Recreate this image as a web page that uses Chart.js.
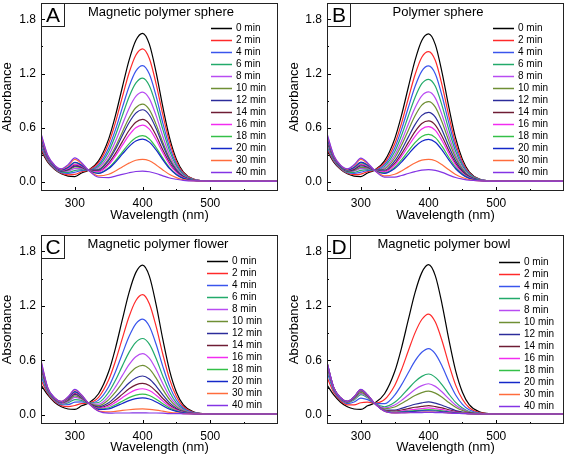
<!DOCTYPE html>
<html>
<head>
<meta charset="utf-8">
<script src="https://cdn.jsdelivr.net/npm/chart.js@4.4.1/dist/chart.umd.min.js"></script>
<style>
  body { margin: 0; background: #fff; }
  #wrap { position: relative; width: 567px; height: 457px; }
  .panel { position: absolute; }
</style>
</head>
<body>
<div id="wrap">
  <div class="panel" style="left:0;top:0;width:283px;height:225px"><canvas id="chartA"></canvas></div>
  <div class="panel" style="left:287px;top:0;width:280px;height:225px"><canvas id="chartB"></canvas></div>
  <div class="panel" style="left:0;top:228px;width:283px;height:229px"><canvas id="chartC"></canvas></div>
  <div class="panel" style="left:287px;top:228px;width:280px;height:229px"><canvas id="chartD"></canvas></div>
</div>
<script>
const wavelengths = [250, 260, 270, 280, 290, 300, 310, 320, 335, 350, 360, 370, 380, 390, 400, 410, 420, 430, 440, 450, 460, 475, 500, 600];

const timeLabels = ["0 min", "2 min", "4 min", "6 min", "8 min", "10 min", "12 min", "14 min", "16 min", "18 min", "20 min", "30 min", "40 min"];

const lineColors = ["#000000", "#ff2a2a", "#3a55ec", "#22aa6a", "#b84cf2", "#6f8f34", "#2c2c9a", "#6e1c34", "#f22cf0", "#34c048", "#1428c8", "#ff6c3c", "#8434e4"];

const xMajor = [300, 400, 500];
const xMinor = [350, 450, 550];
const yMajor = [0, 0.6, 1.2, 1.8];
const yMinor = [0.3, 0.9, 1.5];

// A: magnetic polymer sphere, one row per time
const magneticSphere = [
  [0.35, 0.22, 0.14, 0.09, 0.065, 0.06, 0.10, 0.13, 0.233, 0.477, 0.736, 1.045, 1.346, 1.566, 1.645, 1.525, 1.212, 0.827, 0.485, 0.25, 0.113, 0.033, 0.01, 0.01],
  [0.371, 0.229, 0.145, 0.096, 0.079, 0.083, 0.113, 0.13, 0.213, 0.429, 0.660, 0.936, 1.205, 1.402, 1.472, 1.365, 1.086, 0.741, 0.435, 0.225, 0.102, 0.031, 0.01, 0.01],
  [0.394, 0.238, 0.151, 0.103, 0.095, 0.108, 0.126, 0.13, 0.191, 0.377, 0.579, 0.820, 1.054, 1.226, 1.288, 1.194, 0.950, 0.649, 0.382, 0.198, 0.091, 0.028, 0.01, 0.01],
  [0.411, 0.244, 0.155, 0.108, 0.106, 0.127, 0.137, 0.13, 0.174, 0.337, 0.517, 0.731, 0.940, 1.093, 1.148, 1.064, 0.847, 0.579, 0.341, 0.178, 0.082, 0.026, 0.01, 0.01],
  [0.430, 0.252, 0.160, 0.114, 0.119, 0.148, 0.148, 0.13, 0.156, 0.294, 0.449, 0.634, 0.814, 0.946, 0.994, 0.922, 0.734, 0.503, 0.297, 0.156, 0.073, 0.024, 0.01, 0.01],
  [0.446, 0.259, 0.164, 0.119, 0.130, 0.166, 0.158, 0.13, 0.140, 0.257, 0.391, 0.551, 0.707, 0.821, 0.861, 0.800, 0.637, 0.437, 0.258, 0.137, 0.064, 0.022, 0.01, 0.01],
  [0.454, 0.262, 0.166, 0.121, 0.135, 0.175, 0.163, 0.13, 0.132, 0.239, 0.363, 0.511, 0.655, 0.761, 0.799, 0.741, 0.591, 0.406, 0.240, 0.128, 0.060, 0.021, 0.01, 0.01],
  [0.467, 0.267, 0.169, 0.125, 0.144, 0.189, 0.170, 0.13, 0.120, 0.209, 0.316, 0.444, 0.569, 0.660, 0.692, 0.643, 0.514, 0.353, 0.210, 0.112, 0.054, 0.020, 0.01, 0.01],
  [0.475, 0.270, 0.171, 0.128, 0.149, 0.198, 0.175, 0.13, 0.112, 0.191, 0.289, 0.404, 0.517, 0.600, 0.629, 0.584, 0.467, 0.321, 0.191, 0.103, 0.050, 0.019, 0.01, 0.01],
  [0.489, 0.276, 0.175, 0.132, 0.159, 0.213, 0.184, 0.13, 0.099, 0.158, 0.237, 0.331, 0.422, 0.488, 0.512, 0.476, 0.381, 0.263, 0.157, 0.086, 0.043, 0.017, 0.01, 0.01],
  [0.494, 0.278, 0.176, 0.133, 0.162, 0.218, 0.186, 0.13, 0.094, 0.148, 0.220, 0.307, 0.391, 0.453, 0.475, 0.441, 0.354, 0.245, 0.147, 0.081, 0.040, 0.016, 0.01, 0.01],
  [0.522, 0.289, 0.183, 0.142, 0.181, 0.249, 0.203, 0.13, 0.067, 0.085, 0.122, 0.166, 0.208, 0.240, 0.250, 0.234, 0.189, 0.133, 0.082, 0.048, 0.026, 0.013, 0.01, 0.01],
  [0.538, 0.295, 0.187, 0.146, 0.192, 0.266, 0.213, 0.13, 0.052, 0.048, 0.064, 0.084, 0.102, 0.116, 0.121, 0.113, 0.094, 0.068, 0.044, 0.030, 0.018, 0.011, 0.01, 0.01]
];

// B: polymer sphere
const polymerSphere = [
  [0.35, 0.22, 0.14, 0.09, 0.065, 0.06, 0.10, 0.13, 0.233, 0.477, 0.736, 1.045, 1.346, 1.566, 1.638, 1.52, 1.208, 0.825, 0.484, 0.25, 0.113, 0.033, 0.01, 0.01],
  [0.374, 0.230, 0.146, 0.097, 0.081, 0.087, 0.115, 0.13, 0.210, 0.422, 0.649, 0.921, 1.186, 1.379, 1.442, 1.343, 1.068, 0.729, 0.428, 0.222, 0.101, 0.030, 0.01, 0.01],
  [0.394, 0.238, 0.151, 0.103, 0.095, 0.108, 0.126, 0.13, 0.191, 0.377, 0.579, 0.821, 1.056, 1.227, 1.284, 1.195, 0.951, 0.650, 0.382, 0.198, 0.091, 0.028, 0.01, 0.01],
  [0.412, 0.245, 0.156, 0.109, 0.107, 0.128, 0.137, 0.13, 0.173, 0.335, 0.514, 0.727, 0.935, 1.087, 1.136, 1.058, 0.842, 0.576, 0.339, 0.177, 0.082, 0.026, 0.01, 0.01],
  [0.429, 0.252, 0.160, 0.114, 0.119, 0.147, 0.148, 0.13, 0.156, 0.296, 0.452, 0.638, 0.820, 0.952, 0.996, 0.928, 0.739, 0.506, 0.298, 0.157, 0.073, 0.024, 0.01, 0.01],
  [0.443, 0.257, 0.163, 0.118, 0.128, 0.162, 0.156, 0.13, 0.144, 0.265, 0.405, 0.570, 0.732, 0.850, 0.889, 0.828, 0.660, 0.452, 0.267, 0.141, 0.066, 0.022, 0.01, 0.01],
  [0.457, 0.263, 0.167, 0.122, 0.137, 0.178, 0.164, 0.13, 0.130, 0.232, 0.352, 0.496, 0.635, 0.737, 0.771, 0.718, 0.573, 0.393, 0.233, 0.124, 0.059, 0.021, 0.01, 0.01],
  [0.469, 0.268, 0.170, 0.126, 0.145, 0.191, 0.171, 0.13, 0.118, 0.205, 0.310, 0.435, 0.557, 0.646, 0.675, 0.630, 0.503, 0.346, 0.205, 0.110, 0.053, 0.019, 0.01, 0.01],
  [0.477, 0.271, 0.172, 0.128, 0.151, 0.200, 0.176, 0.13, 0.111, 0.187, 0.282, 0.395, 0.505, 0.586, 0.612, 0.571, 0.456, 0.314, 0.187, 0.101, 0.049, 0.018, 0.01, 0.01],
  [0.487, 0.275, 0.174, 0.131, 0.158, 0.211, 0.182, 0.13, 0.100, 0.163, 0.244, 0.341, 0.435, 0.504, 0.527, 0.491, 0.393, 0.271, 0.162, 0.089, 0.044, 0.017, 0.01, 0.01],
  [0.494, 0.278, 0.176, 0.133, 0.162, 0.219, 0.187, 0.13, 0.094, 0.148, 0.220, 0.306, 0.390, 0.451, 0.472, 0.440, 0.353, 0.244, 0.146, 0.081, 0.040, 0.016, 0.01, 0.01],
  [0.521, 0.289, 0.183, 0.141, 0.181, 0.249, 0.203, 0.13, 0.068, 0.085, 0.122, 0.167, 0.210, 0.241, 0.251, 0.235, 0.190, 0.134, 0.082, 0.049, 0.026, 0.013, 0.01, 0.01],
  [0.536, 0.294, 0.186, 0.146, 0.190, 0.264, 0.211, 0.13, 0.054, 0.053, 0.072, 0.094, 0.115, 0.131, 0.136, 0.128, 0.106, 0.076, 0.049, 0.032, 0.019, 0.012, 0.01, 0.01]
];

// C: magnetic polymer flower
const magneticFlower = [
  [0.33, 0.22, 0.14, 0.09, 0.065, 0.06, 0.10, 0.13, 0.233, 0.477, 0.736, 1.045, 1.346, 1.566, 1.649, 1.528, 1.214, 0.828, 0.485, 0.25, 0.113, 0.033, 0.01, 0.01],
  [0.384, 0.236, 0.150, 0.102, 0.092, 0.104, 0.124, 0.13, 0.194, 0.386, 0.593, 0.840, 1.081, 1.257, 1.324, 1.224, 0.974, 0.665, 0.391, 0.203, 0.093, 0.028, 0.01, 0.01],
  [0.429, 0.249, 0.158, 0.112, 0.114, 0.140, 0.144, 0.13, 0.163, 0.310, 0.475, 0.671, 0.862, 1.002, 1.055, 0.976, 0.777, 0.532, 0.314, 0.164, 0.076, 0.025, 0.01, 0.01],
  [0.464, 0.260, 0.165, 0.120, 0.132, 0.169, 0.160, 0.13, 0.137, 0.250, 0.381, 0.537, 0.688, 0.799, 0.841, 0.779, 0.621, 0.426, 0.252, 0.133, 0.063, 0.022, 0.01, 0.01],
  [0.491, 0.268, 0.170, 0.126, 0.146, 0.192, 0.172, 0.13, 0.118, 0.204, 0.308, 0.432, 0.553, 0.641, 0.675, 0.625, 0.499, 0.343, 0.204, 0.110, 0.053, 0.019, 0.01, 0.01],
  [0.513, 0.274, 0.174, 0.131, 0.156, 0.209, 0.181, 0.13, 0.102, 0.168, 0.251, 0.351, 0.448, 0.519, 0.546, 0.506, 0.405, 0.279, 0.167, 0.091, 0.045, 0.017, 0.01, 0.01],
  [0.533, 0.280, 0.178, 0.135, 0.166, 0.225, 0.190, 0.13, 0.088, 0.134, 0.199, 0.276, 0.352, 0.407, 0.428, 0.396, 0.318, 0.220, 0.133, 0.074, 0.037, 0.016, 0.01, 0.01],
  [0.546, 0.284, 0.180, 0.138, 0.173, 0.236, 0.196, 0.13, 0.079, 0.112, 0.164, 0.226, 0.287, 0.331, 0.347, 0.323, 0.260, 0.181, 0.110, 0.062, 0.032, 0.015, 0.01, 0.01],
  [0.555, 0.287, 0.182, 0.140, 0.178, 0.244, 0.200, 0.13, 0.072, 0.095, 0.138, 0.189, 0.239, 0.275, 0.288, 0.268, 0.217, 0.152, 0.093, 0.054, 0.029, 0.014, 0.01, 0.01],
  [0.565, 0.290, 0.184, 0.142, 0.183, 0.252, 0.205, 0.13, 0.065, 0.079, 0.112, 0.151, 0.190, 0.218, 0.229, 0.213, 0.173, 0.122, 0.075, 0.045, 0.025, 0.013, 0.01, 0.01],
  [0.572, 0.292, 0.185, 0.144, 0.186, 0.257, 0.208, 0.13, 0.060, 0.067, 0.094, 0.126, 0.157, 0.179, 0.188, 0.175, 0.143, 0.101, 0.063, 0.039, 0.022, 0.012, 0.01, 0.01],
  [0.592, 0.298, 0.189, 0.148, 0.196, 0.274, 0.217, 0.13, 0.045, 0.033, 0.040, 0.049, 0.057, 0.063, 0.066, 0.062, 0.053, 0.041, 0.028, 0.022, 0.015, 0.011, 0.01, 0.01],
  [0.600, 0.300, 0.190, 0.150, 0.200, 0.280, 0.220, 0.13, 0.040, 0.020, 0.021, 0.021, 0.021, 0.022, 0.022, 0.021, 0.021, 0.019, 0.015, 0.015, 0.012, 0.010, 0.01, 0.01]
];

// D: magnetic polymer bowl
const magneticBowl = [
  [0.33, 0.22, 0.14, 0.09, 0.065, 0.06, 0.10, 0.13, 0.233, 0.477, 0.736, 1.045, 1.346, 1.566, 1.653, 1.53, 1.215, 0.828, 0.485, 0.25, 0.113, 0.033, 0.01, 0.01],
  [0.414, 0.247, 0.157, 0.110, 0.110, 0.134, 0.140, 0.13, 0.169, 0.324, 0.497, 0.703, 0.903, 1.050, 1.110, 1.022, 0.814, 0.557, 0.328, 0.172, 0.079, 0.025, 0.01, 0.01],
  [0.472, 0.265, 0.168, 0.124, 0.142, 0.185, 0.168, 0.13, 0.124, 0.218, 0.330, 0.464, 0.594, 0.689, 0.730, 0.672, 0.536, 0.368, 0.219, 0.117, 0.056, 0.020, 0.01, 0.01],
  [0.515, 0.279, 0.177, 0.134, 0.165, 0.223, 0.189, 0.13, 0.090, 0.139, 0.207, 0.288, 0.366, 0.424, 0.450, 0.413, 0.331, 0.229, 0.138, 0.076, 0.038, 0.016, 0.01, 0.01],
  [0.531, 0.284, 0.180, 0.138, 0.174, 0.237, 0.197, 0.13, 0.078, 0.109, 0.160, 0.220, 0.279, 0.322, 0.343, 0.314, 0.252, 0.176, 0.107, 0.061, 0.032, 0.014, 0.01, 0.01],
  [0.544, 0.288, 0.183, 0.141, 0.180, 0.248, 0.203, 0.13, 0.068, 0.087, 0.125, 0.170, 0.214, 0.246, 0.262, 0.240, 0.194, 0.136, 0.084, 0.049, 0.027, 0.013, 0.01, 0.01],
  [0.562, 0.294, 0.186, 0.146, 0.190, 0.264, 0.211, 0.13, 0.054, 0.053, 0.072, 0.095, 0.117, 0.133, 0.144, 0.130, 0.107, 0.077, 0.049, 0.032, 0.019, 0.012, 0.01, 0.01],
  [0.568, 0.296, 0.188, 0.147, 0.194, 0.269, 0.214, 0.13, 0.049, 0.042, 0.054, 0.069, 0.084, 0.094, 0.103, 0.092, 0.077, 0.057, 0.038, 0.026, 0.017, 0.011, 0.01, 0.01],
  [0.572, 0.297, 0.188, 0.148, 0.196, 0.273, 0.216, 0.13, 0.046, 0.035, 0.043, 0.053, 0.062, 0.070, 0.077, 0.068, 0.058, 0.044, 0.030, 0.023, 0.015, 0.011, 0.01, 0.01],
  [0.575, 0.298, 0.189, 0.149, 0.197, 0.275, 0.217, 0.13, 0.044, 0.030, 0.035, 0.042, 0.048, 0.053, 0.059, 0.052, 0.045, 0.035, 0.025, 0.020, 0.014, 0.010, 0.01, 0.01],
  [0.577, 0.299, 0.189, 0.149, 0.198, 0.277, 0.218, 0.13, 0.043, 0.026, 0.030, 0.034, 0.039, 0.044, 0.046, 0.043, 0.037, 0.029, 0.022, 0.018, 0.013, 0.010, 0.01, 0.01],
  [0.579, 0.300, 0.190, 0.150, 0.199, 0.279, 0.219, 0.13, 0.041, 0.022, 0.024, 0.026, 0.028, 0.029, 0.031, 0.029, 0.028, 0.022, 0.017, 0.016, 0.012, 0.010, 0.01, 0.01],
  [0.580, 0.300, 0.190, 0.150, 0.200, 0.280, 0.220, 0.13, 0.040, 0.021, 0.022, 0.024, 0.025, 0.026, 0.028, 0.026, 0.025, 0.020, 0.016, 0.015, 0.012, 0.010, 0.01, 0.01]
];

const FONT = "'Liberation Sans', Arial, sans-serif";
Chart.defaults.font.family = FONT;
Chart.defaults.color = "#000";

// frame, inward ticks, panel letter, title and the legend inside the plot
const decor = {
    id: "decor",
    afterDraw(chart, args, o) {
        const ctx = chart.ctx;
        const { left, top, right, bottom } = chart.chartArea;
        const xs = chart.scales.x, ys = chart.scales.y;
        ctx.save();
        ctx.strokeStyle = "#000";
        ctx.lineWidth = 1;
        ctx.beginPath();
        xMajor.forEach(v => { const p = Math.round(xs.getPixelForValue(v)) + 0.5; ctx.moveTo(p, bottom); ctx.lineTo(p, bottom - 4); });
        xMinor.forEach(v => { const p = Math.round(xs.getPixelForValue(v)) + 0.5; ctx.moveTo(p, bottom); ctx.lineTo(p, bottom - 2); });
        yMajor.forEach(v => { const p = Math.round(ys.getPixelForValue(v)) + 0.5; ctx.moveTo(left, p); ctx.lineTo(left + 4, p); });
        yMinor.forEach(v => { const p = Math.round(ys.getPixelForValue(v)) + 0.5; ctx.moveTo(left, p); ctx.lineTo(left + 2, p); });
        ctx.stroke();

        ctx.strokeStyle = "#222";
        ctx.strokeRect(left + 0.5, top + 0.5, right - left - 1, bottom - top - 1);
        ctx.strokeRect(left + 0.5, top + 0.5, 23, 23);

        ctx.fillStyle = "#000";
        ctx.textAlign = "center";
        ctx.textBaseline = "alphabetic";
        ctx.font = "21px " + FONT;
        ctx.fillText(o.letter, left + 12, top + 19);
        ctx.font = "13px " + FONT;
        ctx.fillText(o.title, left + o.titleX, top + 13);

        ctx.font = "10px " + FONT;
        ctx.textAlign = "left";
        ctx.textBaseline = "middle";
        chart.data.datasets.forEach((ds, i) => {
            const y = Math.round(top + o.legendY + i * 12) + 0.5;
            const x0 = right + o.legendX;
            ctx.strokeStyle = ds.borderColor;
            ctx.lineWidth = 1.5;
            ctx.beginPath();
            ctx.moveTo(x0, y);
            ctx.lineTo(x0 + 21, y);
            ctx.stroke();
            ctx.fillText(ds.label, x0 + 25, y);
        });
        ctx.restore();
    }
};

// fixed axis sizes, and no extra room for end labels so the plot box lands where the picture has it
function fixBox(s, size) {
    if (s.isHorizontal()) s.height = size; else s.width = size;
    s.paddingTop = 0;
    s.paddingBottom = 0;
    s.paddingLeft = 0;
    s.paddingRight = 0;
}

function makeChart(id, curves, p) {
    const datasets = curves.map((vals, i) => ({
        label: timeLabels[i],
        data: vals.map((v, j) => ({ x: wavelengths[j], y: v })),
        borderColor: lineColors[i],
        borderWidth: 1.2,
        pointRadius: 0,
        cubicInterpolationMode: "monotone",
        fill: false,
        order: curves.length - i
    }));

    new Chart(document.getElementById(id), {
        type: "line",
        data: { datasets: datasets },
        plugins: [decor],
        options: {
            responsive: true,
            maintainAspectRatio: false,
            animation: false,
            layout: { padding: { top: p.padTop, right: p.padRight, left: 0, bottom: 0 } },
            plugins: {
                legend: { display: false },
                tooltip: { enabled: false },
                decor: { letter: p.letter, title: p.title, titleX: p.titleX, legendX: p.legendX, legendY: p.legendY }
            },
            scales: {
                x: {
                    type: "linear",
                    min: 250,
                    max: 600,
                    grid: { display: false, drawTicks: false, tickLength: 0 },
                    border: { display: false },
                    afterBuildTicks: s => { s.ticks = xMajor.map(v => ({ value: v })); },
                    afterFit: s => fixBox(s, p.xHeight),
                    ticks: { padding: 5, maxRotation: 0, font: { size: 12 } },
                    title: { display: true, text: "Wavelength (nm)", font: { size: 13 }, padding: { top: 0, bottom: 2 } }
                },
                y: {
                    min: -0.1,
                    max: 1.98,
                    grid: { display: false, drawTicks: false, tickLength: 0 },
                    border: { display: false },
                    afterBuildTicks: s => { s.ticks = yMajor.map(v => ({ value: v })); },
                    afterFit: s => fixBox(s, p.yWidth),
                    ticks: { padding: 5, font: { size: 12 }, callback: v => v.toFixed(1) },
                    title: { display: true, text: "Absorbance", font: { size: 13 }, padding: 0 }
                }
            }
        }
    });
}

makeChart("chartA", magneticSphere, { letter: "A", title: "Magnetic polymer sphere", titleX: 120, legendX: -67, legendY: 25, padTop: 3, padRight: 5, xHeight: 34, yWidth: 41 });
makeChart("chartB", polymerSphere, { letter: "B", title: "Polymer sphere", titleX: 111, legendX: -71, legendY: 25, padTop: 3, padRight: 3, xHeight: 34, yWidth: 40 });
makeChart("chartC", magneticFlower, { letter: "C", title: "Magnetic polymer flower", titleX: 117, legendX: -71, legendY: 26, padTop: 7, padRight: 5, xHeight: 33, yWidth: 41 });
makeChart("chartD", magneticBowl, { letter: "D", title: "Magnetic polymer bowl", titleX: 117, legendX: -65, legendY: 27, padTop: 7, padRight: 3, xHeight: 33, yWidth: 40 });
</script>
</body>
</html>
